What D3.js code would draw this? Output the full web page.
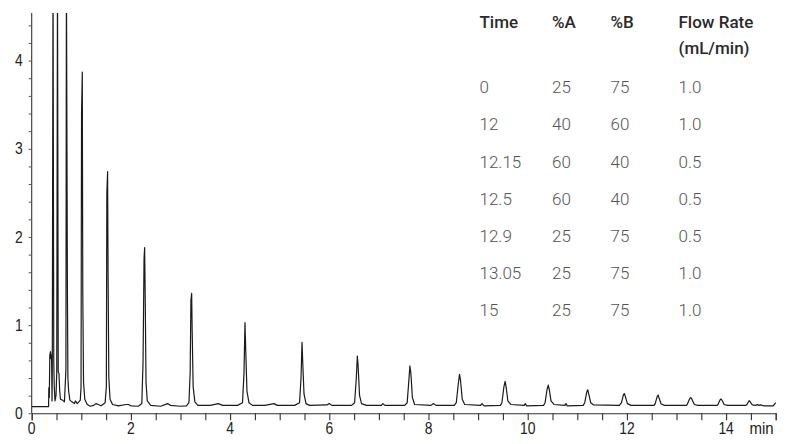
<!DOCTYPE html>
<html>
<head>
<meta charset="utf-8">
<script src="https://cdn.jsdelivr.net/npm/d3@7/dist/d3.min.js"></script>
<style>
  html, body { margin: 0; padding: 0; background: #fff; }
  svg { display: block; }
</style>
</head>
<body>
<svg id="chart" width="803" height="444"></svg>
<script>
// ---- data ----
const xTicks = [0, 2, 4, 6, 8, 10, 12, 14];
const yTicks = [0, 1, 2, 3, 4];
const xUnit = "min";

// chromatogram trace: [time (min), signal]
const traceTime = [
  0, 0.34, 0.345, 0.355, 0.365, 0.38, 0.39, 0.40, 0.41, 0.415, 0.43, 0.445, 0.455, 0.47, 0.49, 0.505, 0.52, 0.535, 0.55, 0.565, 0.58, 0.62, 0.66, 0.69, 0.70, 0.72, 0.73, 0.745, 0.77, 0.81, 0.86, 0.88, 0.92, 0.95, 0.98,
  0.995, 1.005, 1.02, 1.03, 1.045, 1.07, 1.12, 1.18, 1.25, 1.3, 1.34, 1.4,
  1.48, 1.505, 1.515, 1.53, 1.54, 1.555, 1.58, 1.63, 1.75, 1.9, 1.95, 2.0, 2.15,
  2.22, 2.245, 2.265, 2.277, 2.29, 2.305, 2.33, 2.4, 2.6, 2.74, 2.8, 3.0, 3.12,
  3.17, 3.195, 3.21, 3.225, 3.235, 3.255, 3.29, 3.35, 3.6, 3.76, 3.85, 4.15,
  4.25, 4.28, 4.3, 4.315, 4.34, 4.38, 4.45, 4.7, 4.885, 4.95, 5.3,
  5.40, 5.43, 5.45, 5.465, 5.49, 5.53, 5.6, 5.95, 6.0, 6.05, 6.45,
  6.51, 6.545, 6.565, 6.58, 6.61, 6.65, 6.75, 7.05, 7.08, 7.12, 7.52,
  7.57, 7.605, 7.625, 7.645, 7.675, 7.72, 8.05, 8.1, 8.15, 8.52,
  8.56, 8.6, 8.625, 8.645, 8.68, 8.73, 9.05, 9.08, 9.12, 9.45,
  9.48, 9.52, 9.545, 9.565, 9.6, 9.66, 9.93, 9.95, 9.98, 10.32,
  10.35, 10.39, 10.415, 10.435, 10.47, 10.53, 10.75, 10.77, 10.8, 11.12,
  11.15, 11.19, 11.21, 11.23, 11.27, 11.33, 11.85,
  11.89, 11.93, 11.95, 11.97, 12.01, 12.08, 12.55,
  12.57, 12.61, 12.63, 12.65, 12.69, 12.76, 13.2,
  13.22, 13.27, 13.29, 13.31, 13.36, 13.43, 13.82,
  13.84, 13.88, 13.9, 13.92, 13.96, 14.03, 14.4,
  14.42, 14.46, 14.475, 14.49, 14.53, 14.6, 14.63, 14.66, 14.7, 14.75, 14.95, 15.0
];
const traceSignal = [
  0.075, 0.075, 0.29, 0.18, 0.66, 0.70, 0.62, 0.66, 0.14, 0.5, 5.0, 0.6, 0.3, 0.14, 0.2, 0.46, 5.0, 0.47, 0.45, 0.25, 0.16, 0.15, 0.13, 0.5, 5.0, 1.4, 0.4, 0.25, 0.15, 0.13, 0.11, 0.14, 0.11, 0.13, 0.15,
  0.3, 3.4, 3.87, 1.36, 0.35, 0.16, 0.1, 0.08, 0.09, 0.11, 0.1, 0.085,
  0.12, 0.3, 2.5, 2.74, 1.55, 0.4, 0.16, 0.1, 0.085, 0.1, 0.1, 0.085, 0.08,
  0.11, 0.58, 1.75, 1.88, 1.23, 0.35, 0.14, 0.09, 0.08, 0.11, 0.09, 0.08, 0.085,
  0.12, 0.46, 1.285, 1.36, 0.945, 0.3, 0.13, 0.09, 0.09, 0.11, 0.09, 0.09,
  0.12, 0.45, 1.03, 0.72, 0.25, 0.12, 0.09, 0.09, 0.11, 0.09, 0.09,
  0.12, 0.4, 0.805, 0.567, 0.22, 0.11, 0.09, 0.095, 0.11, 0.09, 0.09,
  0.12, 0.4, 0.65, 0.55, 0.2, 0.11, 0.09, 0.09, 0.11, 0.09, 0.09,
  0.12, 0.38, 0.537, 0.45, 0.18, 0.1, 0.09, 0.11, 0.09, 0.09,
  0.12, 0.33, 0.442, 0.38, 0.16, 0.1, 0.09, 0.11, 0.085, 0.09,
  0.12, 0.3, 0.362, 0.3, 0.14, 0.1, 0.09, 0.11, 0.085, 0.09,
  0.12, 0.27, 0.32, 0.27, 0.14, 0.1, 0.09, 0.11, 0.085, 0.09,
  0.12, 0.24, 0.267, 0.22, 0.12, 0.095, 0.09,
  0.12, 0.21, 0.222, 0.19, 0.11, 0.09, 0.09,
  0.11, 0.19, 0.207, 0.17, 0.105, 0.09, 0.09,
  0.105, 0.17, 0.177, 0.16, 0.1, 0.09, 0.09,
  0.105, 0.155, 0.162, 0.145, 0.1, 0.09, 0.09,
  0.1, 0.14, 0.142, 0.125, 0.095, 0.09, 0.1, 0.09, 0.095, 0.085, 0.085, 0.12
];

// gradient table
const tableHeader = ["Time", "%A", "%B", "Flow Rate"];
const tableHeader2 = ["", "", "", "(mL/min)"];
const gradTime = ["0", "12", "12.15", "12.5", "12.9", "13.05", "15"];
const gradA = ["25", "40", "60", "60", "25", "25", "25"];
const gradB = ["75", "60", "40", "40", "75", "75", "75"];
const gradFlow = ["1.0", "1.0", "0.5", "0.5", "0.5", "1.0", "1.0"];

// ---- layout ----
const svg = d3.select("#chart");
const plotLeft = 31.7, plotRight = 775.7, plotTop = 13, plotBottom = 413.3;
const axisFont = "'Liberation Sans', Arial, sans-serif";
const axisSize = 15.8, squeeze = 0.88;

const x = d3.scaleLinear().domain([0, 15]).range([plotLeft, plotRight]);
const y = d3.scaleLinear().domain([0, 4.54]).range([plotBottom, plotTop]);

// clip
svg.append("defs").append("clipPath").attr("id", "plotclip")
  .append("rect").attr("x", plotLeft).attr("y", plotTop)
  .attr("width", plotRight - plotLeft + 2).attr("height", plotBottom - plotTop);

const trace = traceTime.map((t, i) => [t, traceSignal[i]]);
const line = d3.line().x(d => x(d[0])).y(d => y(d[1]));

svg.append("path")
  .datum(trace)
  .attr("clip-path", "url(#plotclip)")
  .attr("fill", "none")
  .attr("stroke", "#1a1a1a")
  .attr("stroke-width", 1.2)
  .attr("stroke-linejoin", "round")
  .attr("d", line);

// x axis
const xMinor = d3.range(0, 15.001, 0.5);
const gx = svg.append("g").attr("transform", `translate(0,${plotBottom})`);
gx.call(d3.axisBottom(x).tickValues(xMinor).tickSize(7).tickFormat(""));
gx.select(".domain").attr("stroke", "#333").attr("stroke-width", 1.1);
gx.selectAll(".tick line").attr("stroke", "#333").attr("stroke-width", 1.1);
gx.selectAll(".xlab").data(xTicks).enter().append("text")
  .attr("class", "xlab")
  .attr("transform", d => `translate(${x(d)},20.8) scale(${squeeze},1)`)
  .attr("text-anchor", "middle")
  .attr("font-family", axisFont).attr("font-size", axisSize).attr("fill", "#222")
  .text(d => d);
gx.append("text")
  .attr("transform", `translate(761.5,20.8) scale(0.95,1)`)
  .attr("font-family", axisFont).attr("font-size", axisSize).attr("fill", "#222")
  .text(xUnit);

// y axis
const yMinor = d3.range(0, 4.5, 0.2);
const gy = svg.append("g").attr("transform", `translate(${plotLeft},0)`);
gy.call(d3.axisLeft(y).tickValues(yMinor).tickSize(3).tickFormat(""));
gy.select(".domain").attr("stroke", "#333").attr("stroke-width", 1.1)
  .attr("d", `M0,${plotTop}V${plotBottom}`);
gy.selectAll(".tick line").attr("stroke", "#555").attr("stroke-width", 1);
gy.selectAll(".ylab").data(yTicks).enter().append("text")
  .attr("class", "ylab")
  .attr("transform", d => `translate(-9,${y(d) + 5.7}) scale(${squeeze},1)`)
  .attr("text-anchor", "end")
  .attr("font-family", axisFont).attr("font-size", axisSize).attr("fill", "#222")
  .text(d => d);

// table
const colX = [479.5, 552, 610.5, 678.5];
const tableFont = "Roboto, 'Noto Sans', sans-serif";
const tSize = 17;
const tg = svg.append("g");
tableHeader.forEach((h, i) => {
  tg.append("text").attr("x", colX[i]).attr("y", 28.3)
    .attr("font-family", tableFont).attr("font-size", tSize).attr("font-weight", 500)
    .attr("fill", "#2a2a2a").text(h);
  if (tableHeader2[i]) {
    tg.append("text").attr("x", colX[i]).attr("y", 53.5)
      .attr("font-family", tableFont).attr("font-size", tSize).attr("font-weight", 500)
      .attr("fill", "#2a2a2a").text(tableHeader2[i]);
  }
});
const rows = gradTime.map((t, i) => [t, gradA[i], gradB[i], gradFlow[i]]);
rows.forEach((r, ri) => {
  r.forEach((v, ci) => {
    tg.append("text").attr("x", colX[ci]).attr("y", 93.3 + ri * 37.1)
      .attr("font-family", tableFont).attr("font-size", tSize).attr("font-weight", 300)
      .attr("fill", "#555").text(v);
  });
});
</script>
</body>
</html>
